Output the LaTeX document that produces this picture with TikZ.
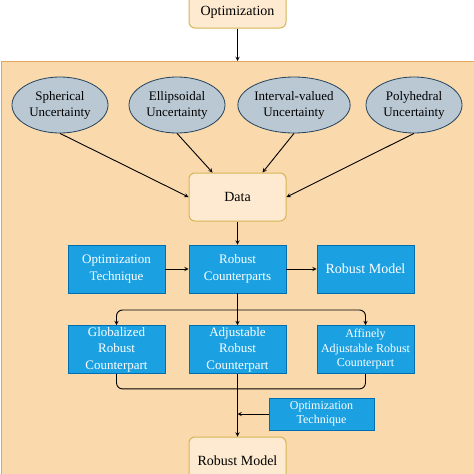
\documentclass[tikz,border=0pt]{standalone}
\usepackage{fontspec}
\setmainfont{Liberation Serif}
\usetikzlibrary{shapes}

\definecolor{panelfill}{HTML}{FAD9AD}
\definecolor{paneldraw}{HTML}{E0A75A}
\definecolor{creamfill}{HTML}{FDEAD0}
\definecolor{creamdraw}{HTML}{D6B656}
\definecolor{ellfill}{HTML}{BAC8D3}
\definecolor{elldraw}{HTML}{23445D}
\definecolor{bluefill}{HTML}{1BA1E2}
\definecolor{bluedraw}{HTML}{006EAF}

\tikzset{
    cream/.style={draw=creamdraw, fill=creamfill, line width=1pt, rounded corners=6pt, minimum width=97, minimum height=48, align=center, font=\fontsize{14}{16}\selectfont},
    uncert/.style={draw=elldraw, fill=ellfill, line width=0.8pt, ellipse, minimum width=96, minimum height=56, inner sep=0, align=center, font=\fontsize{13}{16}\selectfont},
    bluebox/.style={draw=bluedraw, fill=bluefill, text=white, line width=0.8pt, minimum width=97, minimum height=48, inner sep=0, align=center, font=\fontsize{13}{16.5}\selectfont}
}

\begin{document}
\begin{tikzpicture}[x=1pt, y=-1pt, line width=0.9pt]
                        \useasboundingbox (0,0) rectangle (474,474);
                        \clip (0,0) rectangle (474,474);
                        \fill[white] (0,0) rectangle (474,474);
                        \draw[draw=paneldraw, fill=panelfill] (1,61) rectangle (480,500);
                        \node[cream] (top) at (237.5,4) {Robust\\Optimization};
                        \coordinate (panel) at (237.5,61);
                        \node[uncert] (sph) at (60,105) {Spherical\\Uncertainty};
                        \node[uncert] (ell) at (177,105) {Ellipsoidal\\Uncertainty};
                        \node[uncert] (intv) at (294,105) {Interval-valued\\Uncertainty};
                        \node[uncert] (poly) at (414,105) {Polyhedral\\Uncertainty};
                        \node[cream] (data) at (237.5,197) {Data};
                        \node[bluebox] (opt) at (116.5,269) {Optimization\\Technique};
                        \node[bluebox] (rc) at (237.5,269) {Robust\\Counterparts};
                        \node[bluebox, font=\fontsize{14}{16}\selectfont] (rm) at (365.5,269) {Robust Model};
                        \node[bluebox] (glob) at (116.5,349.5) {Globalized\\Robust\\Counterpart};
                        \node[bluebox] (adj) at (237.5,349.5) {Adjustable\\Robust\\Counterpart};
                        \node[bluebox, font=\fontsize{12}{14.5}\selectfont] (aff) at (365.5,349.5) {Affinely\\Adjustable Robust\\Counterpart};
                        \node[bluebox, minimum width=105, minimum height=32, font=\fontsize{12}{14.5}\selectfont] (opt2) at (321.5,414) {Optimization\\Technique};
                        \node[cream] (final) at (237.5,461) {Robust Model};
                        \coordinate (split) at (237.5,310);
			\draw[-stealth] (top) -- (panel);
			\draw[-stealth] (sph.south) -- (data.west);
			\draw[-stealth] (ell.south) -- ([xshift=-25]data.north);
			\draw[-stealth] (intv.south) -- ([xshift=25]data.north);
			\draw[-stealth] (poly.south) -- (data.east);
			\draw[-stealth] (data) -- (rc);
			\draw[-stealth] (opt) -- (rc);
			\draw[-stealth] (rc) -- (rm);
			\draw[-stealth] (rc) -- (adj);
			\draw[-stealth, rounded corners=6pt] (split) -| (glob.north);
			\draw[-stealth, rounded corners=6pt] (split) -| (aff.north);
			\draw[rounded corners=6pt] (glob.south) -- ++(0,15) -| (aff.south);
			\draw[-stealth] (adj) -- (final);
			\draw[-stealth] (opt2.west) -- (opt2.west -| adj.south);
                \end{tikzpicture}
\end{document}
